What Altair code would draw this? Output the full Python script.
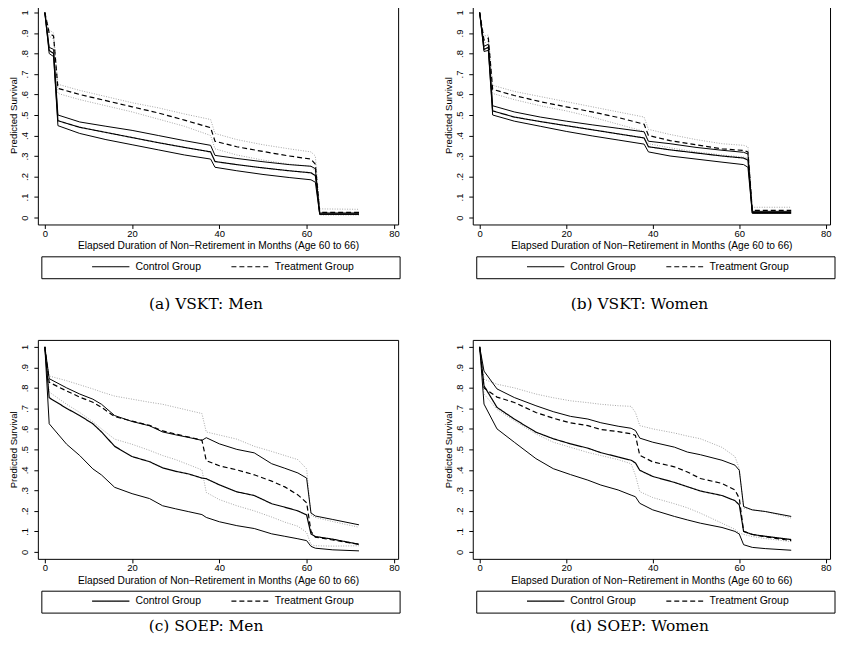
import altair as alt
import pandas as pd

# ---------------- data ----------------
X_TICKS = [0, 20, 40, 60, 80]
Y_TICKS = [0, 0.1, 0.2, 0.3, 0.4, 0.5, 0.6, 0.7, 0.8, 0.9, 1.0]
GROUPS = ["Control Group", "Treatment Group"]
CAPTIONS = ["(a) VSKT: Men", "(b) VSKT: Women", "(c) SOEP: Men", "(d) SOEP: Women"]
X_TITLE = "Elapsed Duration of Non\u2212Retirement in Months (Age 60 to 66)"
Y_TITLE = "Predicted Survival"

# Panel (a) VSKT: Men
months_a = [0, 1, 2, 3, 8, 14, 20, 26, 32, 38, 39, 44, 50, 56, 61, 62, 63, 72]
a_ctrl = [1.0, 0.815, 0.80, 0.472, 0.44, 0.415, 0.39, 0.365, 0.342, 0.32, 0.273, 0.258, 0.242, 0.228, 0.218, 0.205, 0.018, 0.018]
a_ctrl_hi = [1.0, 0.83, 0.82, 0.50, 0.466, 0.445, 0.425, 0.40, 0.375, 0.352, 0.303, 0.288, 0.272, 0.258, 0.250, 0.238, 0.022, 0.022]
a_ctrl_lo = [1.0, 0.80, 0.785, 0.448, 0.41, 0.38, 0.355, 0.33, 0.305, 0.285, 0.245, 0.228, 0.21, 0.195, 0.184, 0.172, 0.015, 0.015]
a_treat = [1.0, 0.90, 0.885, 0.63, 0.60, 0.57, 0.54, 0.51, 0.475, 0.438, 0.372, 0.345, 0.322, 0.30, 0.285, 0.26, 0.025, 0.025]
a_treat_hi = [1.0, 0.915, 0.90, 0.65, 0.62, 0.59, 0.56, 0.535, 0.505, 0.478, 0.41, 0.38, 0.355, 0.335, 0.32, 0.30, 0.042, 0.04]
a_treat_lo = [1.0, 0.885, 0.87, 0.605, 0.575, 0.545, 0.515, 0.48, 0.445, 0.40, 0.335, 0.305, 0.28, 0.26, 0.25, 0.225, 0.012, 0.012]

# Panel (b) VSKT: Women
months_b = [0, 1, 2, 3, 8, 14, 20, 26, 32, 38, 39, 44, 50, 56, 61, 62, 63, 72]
b_ctrl = [1.0, 0.82, 0.83, 0.52, 0.49, 0.468, 0.448, 0.428, 0.408, 0.388, 0.345, 0.33, 0.315, 0.30, 0.29, 0.28, 0.025, 0.025]
b_ctrl_hi = [1.0, 0.835, 0.845, 0.545, 0.515, 0.49, 0.47, 0.452, 0.435, 0.418, 0.372, 0.36, 0.342, 0.328, 0.318, 0.31, 0.03, 0.03]
b_ctrl_lo = [1.0, 0.81, 0.815, 0.50, 0.47, 0.445, 0.42, 0.398, 0.378, 0.358, 0.32, 0.30, 0.285, 0.27, 0.258, 0.245, 0.02, 0.02]
b_treat = [1.0, 0.865, 0.875, 0.625, 0.595, 0.565, 0.54, 0.515, 0.488, 0.455, 0.40, 0.375, 0.355, 0.335, 0.327, 0.32, 0.035, 0.035]
b_treat_hi = [1.0, 0.885, 0.89, 0.645, 0.615, 0.59, 0.565, 0.54, 0.515, 0.49, 0.43, 0.405, 0.38, 0.36, 0.352, 0.345, 0.05, 0.05]
b_treat_lo = [1.0, 0.85, 0.86, 0.605, 0.575, 0.545, 0.52, 0.49, 0.455, 0.42, 0.36, 0.34, 0.32, 0.305, 0.295, 0.29, 0.022, 0.022]

# Panel (c) SOEP: Men
months_c = [0, 1, 5, 8, 11, 13, 16, 20, 24, 27, 30, 33, 36, 37, 40, 44, 48, 52, 55, 58, 60, 61, 62, 66, 72]
c_ctrl = [1.0, 0.752, 0.70, 0.665, 0.625, 0.585, 0.515, 0.465, 0.44, 0.41, 0.393, 0.38, 0.36, 0.357, 0.327, 0.293, 0.275, 0.235, 0.218, 0.20, 0.18, 0.088, 0.075, 0.062, 0.037]
c_ctrl_hi = [1.0, 0.845, 0.80, 0.77, 0.745, 0.72, 0.665, 0.636, 0.615, 0.585, 0.571, 0.558, 0.544, 0.557, 0.527, 0.50, 0.483, 0.43, 0.408, 0.385, 0.36, 0.19, 0.175, 0.158, 0.132]
c_ctrl_lo = [1.0, 0.625, 0.525, 0.47, 0.405, 0.375, 0.315, 0.284, 0.26, 0.225, 0.21, 0.196, 0.182, 0.168, 0.147, 0.128, 0.114, 0.088, 0.076, 0.064, 0.055, 0.027, 0.018, 0.01, 0.005]
c_treat = [1.0, 0.827, 0.785, 0.755, 0.73, 0.705, 0.66, 0.638, 0.617, 0.59, 0.575, 0.56, 0.545, 0.445, 0.42, 0.40, 0.376, 0.345, 0.317, 0.278, 0.24, 0.10, 0.072, 0.058, 0.037]
c_treat_hi = [1.0, 0.858, 0.835, 0.815, 0.795, 0.78, 0.76, 0.745, 0.73, 0.72, 0.705, 0.69, 0.675, 0.585, 0.57, 0.55, 0.515, 0.49, 0.47, 0.45, 0.405, 0.18, 0.168, 0.148, 0.12]
c_treat_lo = [1.0, 0.78, 0.72, 0.68, 0.635, 0.60, 0.55, 0.525, 0.495, 0.47, 0.45, 0.425, 0.40, 0.29, 0.255, 0.225, 0.20, 0.17, 0.145, 0.125, 0.095, 0.035, 0.03, 0.028, 0.03]

# Panel (d) SOEP: Women
months_d = [0, 1, 4, 8, 13, 17, 21, 25, 28, 32, 35, 36, 37, 40, 45, 48, 51, 56, 59, 60, 61, 63, 66, 72]
d_ctrl = [1.0, 0.81, 0.705, 0.648, 0.584, 0.552, 0.527, 0.506, 0.484, 0.463, 0.447, 0.434, 0.398, 0.368, 0.339, 0.318, 0.297, 0.275, 0.25, 0.229, 0.10, 0.085, 0.076, 0.06]
d_ctrl_hi = [1.0, 0.882, 0.795, 0.753, 0.713, 0.684, 0.661, 0.648, 0.63, 0.613, 0.603, 0.592, 0.555, 0.535, 0.511, 0.487, 0.474, 0.447, 0.423, 0.398, 0.221, 0.205, 0.197, 0.173]
d_ctrl_lo = [1.0, 0.721, 0.60, 0.535, 0.455, 0.406, 0.377, 0.35, 0.326, 0.302, 0.277, 0.269, 0.237, 0.205, 0.173, 0.156, 0.14, 0.119, 0.10, 0.087, 0.035, 0.022, 0.016, 0.008]
d_treat = [1.0, 0.80, 0.755, 0.729, 0.68, 0.652, 0.629, 0.616, 0.597, 0.587, 0.576, 0.568, 0.471, 0.439, 0.415, 0.39, 0.358, 0.334, 0.302, 0.261, 0.10, 0.085, 0.074, 0.055]
d_treat_hi = [1.0, 0.842, 0.818, 0.80, 0.77, 0.752, 0.737, 0.728, 0.72, 0.713, 0.71, 0.68, 0.616, 0.60, 0.58, 0.565, 0.552, 0.51, 0.465, 0.406, 0.213, 0.205, 0.197, 0.165]
d_treat_lo = [1.0, 0.77, 0.695, 0.64, 0.575, 0.535, 0.51, 0.485, 0.47, 0.45, 0.43, 0.374, 0.294, 0.265, 0.235, 0.215, 0.189, 0.14, 0.11, 0.092, 0.085, 0.075, 0.065, 0.05]

# ---------------- styling / layout ----------------
FONT = "Liberation Sans"
LEFT_W, RIGHT_W, PLOT_H = 362, 359, 220
X_DOMAIN = [-1.6, 80.97]
Y_DOMAIN = [-0.034, 1.034]
ZW = "\u200b"
LEFT_GAP = ZW + "\u00a0" * 15 + ZW      # invisible legend title -> left margin in the legend box
RIGHT_GAP = "\u00a0" * 14 + ZW           # invisible tail -> right margin in the legend box


def panel_df(months, ctrl, ctrl_hi, ctrl_lo, treat, treat_hi, treat_lo):
    rows = []
    named = [("ctrl", ctrl), ("ctrl_hi", ctrl_hi), ("ctrl_lo", ctrl_lo),
             ("treat", treat), ("treat_hi", treat_hi), ("treat_lo", treat_lo)]
    for name, vals in named:
        grp = GROUPS[0] if name.startswith("ctrl") else GROUPS[1]
        for m, v in zip(months, vals):
            rows.append({"month": m, "surv": v, "series": name, "group": grp})
    return pd.DataFrame(rows)


def panel(df, caption, caption_offset, width):
    x = alt.X("month:Q",
              scale=alt.Scale(domain=X_DOMAIN, nice=False, zero=False),
              axis=alt.Axis(values=X_TICKS, title=X_TITLE, labelFlush=False))
    y = alt.Y("surv:Q",
              scale=alt.Scale(domain=Y_DOMAIN, nice=False, zero=False),
              axis=alt.Axis(values=Y_TICKS, title=Y_TITLE, labelAngle=270,
                            labelAlign="center", labelBaseline="bottom",
                            labelExpr="datum.value == 0 ? '0' : datum.value == 1 ? '1' : '.' + format(round(datum.value * 10), 'd')"))
    base = alt.Chart(df).encode(x=x, y=y)

    dotted = base.transform_filter(
        alt.FieldOneOfPredicate(field="series", oneOf=["treat_hi", "treat_lo"])
    ).mark_line(color="#a6a6a6", strokeWidth=1, strokeDash=[1, 1.5]).encode(detail="series:N")

    ci = base.transform_filter(
        alt.FieldOneOfPredicate(field="series", oneOf=["ctrl_hi", "ctrl_lo"])
    ).mark_line(color="black", strokeWidth=1).encode(detail="series:N")

    legend = alt.Legend(
        orient="none", legendX=3.5, legendY=252, direction="horizontal",
        title=LEFT_GAP, titleOrient="left", titlePadding=1.25, titleFont=FONT,
        titleFontSize=10.5, titleColor="black",
        strokeColor="black", padding=5, symbolType="stroke", symbolSize=1406,
        symbolStrokeWidth=1.2, symbolStrokeColor="black", symbolOffset=0,
        labelOffset=5.25, columnPadding=29, clipHeight=11,
        labelFont=FONT, labelFontSize=10.5, labelColor="black",
        labelExpr="datum.value == 'Treatment Group' ? datum.label + '" + RIGHT_GAP + "' : datum.label",
    )
    est = base.transform_filter(
        alt.FieldOneOfPredicate(field="series", oneOf=["ctrl", "treat"])
    ).mark_line(color="black", strokeWidth=1.2).encode(
        strokeDash=alt.StrokeDash("group:N",
                                  scale=alt.Scale(domain=GROUPS, range=[[1, 0], [5, 3]]),
                                  legend=legend)
    )

    return alt.layer(dotted, ci, est).properties(
        width=width, height=PLOT_H,
        title=alt.TitleParams(text=caption, orient="bottom", anchor="middle",
                              font="DejaVu Serif", fontSize=15.5, fontWeight="normal",
                              color="black", offset=caption_offset, baseline="top", dx=-12),
    )


pa = panel(panel_df(months_a, a_ctrl, a_ctrl_hi, a_ctrl_lo, a_treat, a_treat_hi, a_treat_lo), CAPTIONS[0], 18, LEFT_W)
pb = panel(panel_df(months_b, b_ctrl, b_ctrl_hi, b_ctrl_lo, b_treat, b_treat_hi, b_treat_lo), CAPTIONS[1], 18, RIGHT_W)
pc = panel(panel_df(months_c, c_ctrl, c_ctrl_hi, c_ctrl_lo, c_treat, c_treat_hi, c_treat_lo), CAPTIONS[2], 6, LEFT_W)
pd_ = panel(panel_df(months_d, d_ctrl, d_ctrl_hi, d_ctrl_lo, d_treat, d_treat_hi, d_treat_lo), CAPTIONS[3], 6, RIGHT_W)

chart = alt.concat(
    pa, pb, pc, pd_, columns=2, bounds="flush", spacing={"row": 116, "column": 75}
).resolve_scale(strokeDash="independent").resolve_legend(strokeDash="independent").properties(
    padding={"left": 0, "top": -5, "right": 0, "bottom": 0},
    background="white",
).configure_view(
    stroke="black", strokeWidth=1,
).configure_axis(
    domain=False, grid=False, ticks=True, tickColor="black", tickSize=4, tickWidth=1,
    labelColor="black", titleColor="black", labelFont=FONT, titleFont=FONT,
    labelFontSize=9.5, titleFontWeight="normal",
).configure_axisX(
    labelPadding=0, titlePadding=3, titleFontSize=10.25,
).configure_axisY(
    labelPadding=4.5, titlePadding=1, titleFontSize=9.6,
)

chart.save("out.html", embed_options={"renderer": "svg", "actions": False})
